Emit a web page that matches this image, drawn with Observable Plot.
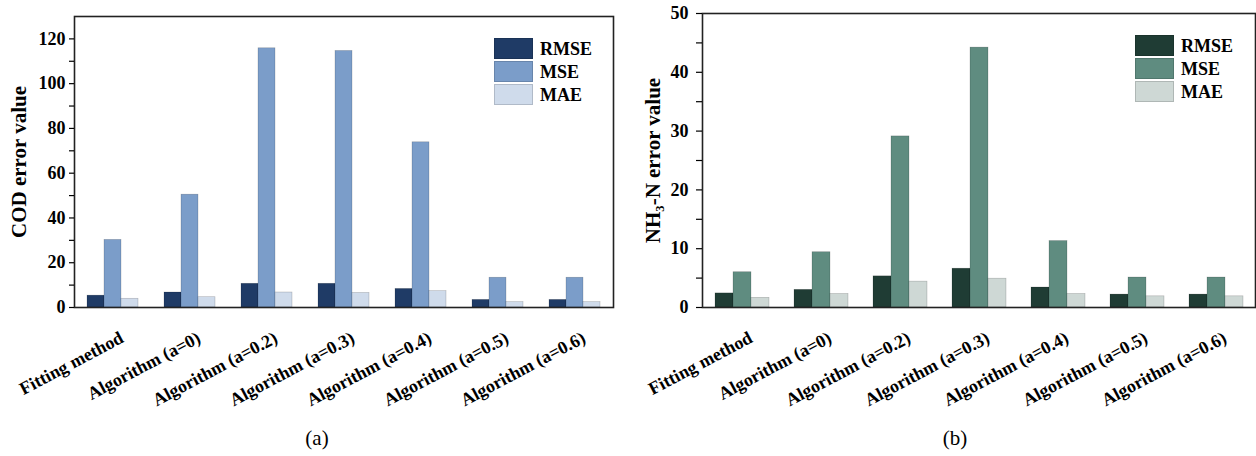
<!DOCTYPE html>
<html><head><meta charset="utf-8">
<script src="https://cdn.jsdelivr.net/npm/d3@7"></script>
<script src="https://cdn.jsdelivr.net/npm/@observablehq/plot@0.6"></script>
<style>
body{margin:0;background:#fff;font-family:"Liberation Serif",serif;}
#wrap{position:relative;width:1256px;height:456px;overflow:hidden;}
.panel{position:absolute;top:0;}
.legend{position:absolute;font-weight:bold;font-size:18px;color:#000;line-height:1;}
.legend .row{display:flex;align-items:center;height:23px;}
.sw{width:39px;height:21px;margin-right:7px;box-sizing:border-box;border:1px solid rgba(0,0,0,0.15);}
.cap{position:absolute;font-size:21px;top:426px;transform:translateX(-50%);color:#000;}
svg [aria-label="y-axis label"] text{font-size:21px !important;}
svg [aria-label="y-axis tick label"] text{font-size:18px !important;}
svg [aria-label="fx-axis tick label"] text{font-size:18px !important;}
</style></head>
<body><div id="wrap"></div>
<script>
const categories = ["Fitting method","Algorithm (a=0)","Algorithm (a=0.2)","Algorithm (a=0.3)","Algorithm (a=0.4)","Algorithm (a=0.5)","Algorithm (a=0.6)"];
const metrics = ["RMSE","MSE","MAE"];
const codRMSE = [5.3, 6.7, 10.6, 10.6, 8.3, 3.4, 3.4];
const codMSE  = [30.2, 50.4, 115.8, 114.6, 73.8, 13.3, 13.3];
const codMAE  = [3.9, 4.6, 6.7, 6.5, 7.3, 2.4, 2.4];
const nhRMSE = [2.4, 3.0, 5.3, 6.6, 3.4, 2.2, 2.2];
const nhMSE  = [6.0, 9.4, 29.1, 44.2, 11.3, 5.1, 5.1];
const nhMAE  = [1.65, 2.3, 4.4, 4.9, 2.3, 1.9, 1.9];
const codTicks = [0, 20, 40, 60, 80, 100, 120];
const codMinor = [10, 30, 50, 70, 90, 110];
const nhTicks = [0, 10, 20, 30, 40, 50];
const nhMinor = [5, 15, 25, 35, 45];
const codColors = ["#1f3b66", "#7b9dc9", "#cfdbeb"];
const nhColors = ["#1f3c34", "#5f8c80", "#ced8d5"];

function rowsOf(a, b, c) {
  const out = [];
  categories.forEach((cat, i) => {
    out.push({cat, metric: "RMSE", value: a[i]});
    out.push({cat, metric: "MSE", value: b[i]});
    out.push({cat, metric: "MAE", value: c[i]});
  });
  return out;
}

function chart(o) {
  return Plot.plot({
    width: o.width, height: 430,
    marginLeft: o.ml, marginRight: o.mr, marginTop: o.mt, marginBottom: 123,
    style: {fontFamily: "Liberation Serif", fontWeight: "bold", fontSize: "18px", color: "#000", background: "transparent"},
    fx: {domain: categories, padding: 0, label: null, axis: null},
    x: {domain: metrics, paddingInner: 0, paddingOuter: 0.65, axis: null},
    y: {domain: o.yDomain, axis: null},
    color: {domain: metrics, range: o.colors},
    marks: [
      Plot.barY(o.rows, {fx: "cat", x: "metric", y: "value", fill: "metric", stroke: "rgba(0,0,0,0.25)", strokeWidth: 0.6}),
      Plot.frame({facet: "super", stroke: "#222", strokeWidth: 1.6}),
      Plot.axisY({ticks: o.ticks, tickSize: o.ts, tickPadding: o.tp, fontSize: 18, label: o.title, labelAnchor: "center", labelOffset: o.lo, labelArrow: "none", strokeWidth: 1.2}),
      Plot.axisY({ticks: o.minor, tickSize: o.ts, tickFormat: () => "", label: null, strokeWidth: 1.2}),
      Plot.axisFx({anchor: "bottom", tickRotate: -28, tickSize: 0, tickPadding: 29, dx: 9, fontSize: 18, label: null})
    ]
  });
}

const wrap = document.getElementById("wrap");
function place(el, left) { const d = document.createElement("div"); d.className = "panel"; d.style.left = left + "px"; d.appendChild(el); wrap.appendChild(d); }

place(chart({width: 625, ml: 74, mr: 12, mt: 16, yDomain: [0, 130], colors: codColors, rows: rowsOf(codRMSE, codMSE, codMAE), ticks: codTicks, minor: codMinor, title: "COD error value", lo: 63, ts: 5, tp: 4}), 0);
place(chart({width: 631, ml: 76, mr: 1, mt: 13, yDomain: [0, 50], colors: nhColors, rows: rowsOf(nhRMSE, nhMSE, nhMAE), ticks: nhTicks, minor: nhMinor, title: "NH₃-N error value", lo: 57, ts: 6, tp: 8}), 625);

function legend(left, top, colors) {
  const d = document.createElement("div"); d.className = "legend";
  d.style.left = left + "px"; d.style.top = top + "px";
  metrics.forEach((m, i) => {
    const r = document.createElement("div"); r.className = "row";
    const s = document.createElement("div"); s.className = "sw"; s.style.background = colors[i];
    const t = document.createElement("span"); t.textContent = m;
    r.appendChild(s); r.appendChild(t); d.appendChild(r);
  });
  wrap.appendChild(d);
}
legend(494, 37, codColors);
legend(1135, 34, nhColors);

function cap(text, x) { const c = document.createElement("div"); c.className = "cap"; c.style.left = x + "px"; c.textContent = text; wrap.appendChild(c); }
cap("(a)", 317);
cap("(b)", 955);
</script>
</body></html>
